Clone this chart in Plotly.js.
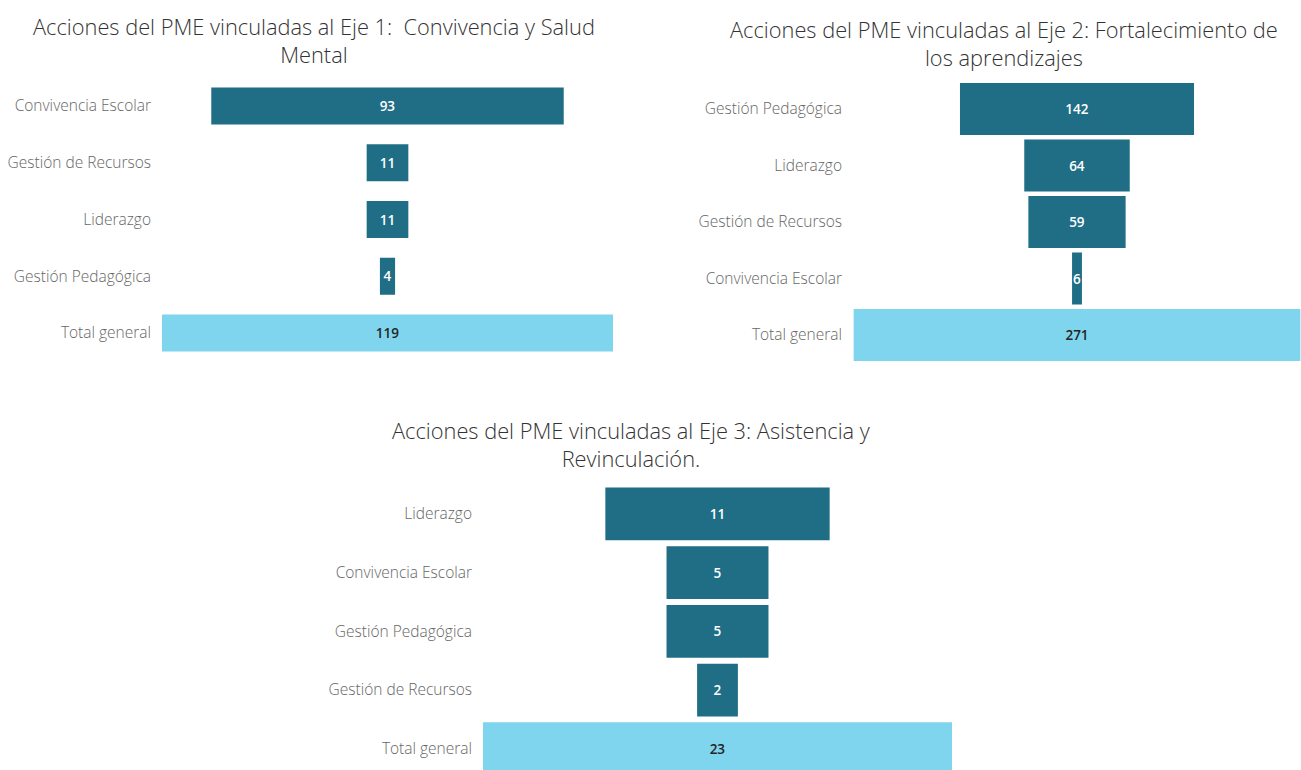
<!DOCTYPE html>
<html>
<head>
<meta charset="utf-8">
<script src="https://cdn.plot.ly/plotly-3.0.1.min.js"></script>
<style>
  html, body { margin: 0; padding: 0; background: #ffffff; }
  #chart { width: 1301px; height: 770px; }
</style>
</head>
<body>
<div id="chart"></div>
<script>
// ---- Data ----
const eje1Title = 'Acciones del PME vinculadas al Eje 1:  Convivencia y Salud<br>Mental';
const eje1Categories = ['Convivencia Escolar', 'Gestión de Recursos', 'Liderazgo', 'Gestión Pedagógica', 'Total general'];
const eje1Values = [93, 11, 11, 4, 119];

const eje2Title = 'Acciones del PME vinculadas al Eje 2: Fortalecimiento de<br>los aprendizajes';
const eje2Categories = ['Gestión Pedagógica', 'Liderazgo', 'Gestión de Recursos', 'Convivencia Escolar', 'Total general'];
const eje2Values = [142, 64, 59, 6, 271];

const eje3Title = 'Acciones del PME vinculadas al Eje 3: Asistencia y<br>Revinculación.';
const eje3Categories = ['Liderazgo', 'Convivencia Escolar', 'Gestión Pedagógica', 'Gestión de Recursos', 'Total general'];
const eje3Values = [11, 5, 5, 2, 23];

// ---- Styles ----
const DARK = '#1f6e86';
const LIGHT = '#7fd5ed';
const W = 1301, H = 770;
const FONT = 'Open Sans, Noto Sans, sans-serif';

function colorsFor(cats) { return cats.map(c => c === 'Total general' ? LIGHT : DARK); }
function textColorsFor(cats) { return cats.map(c => c === 'Total general' ? '#252423' : '#ffffff'); }

function funnel(cats, vals, xa, ya, width) {
  return {
    type: 'funnel',
    y: cats,
    x: vals,
    xaxis: xa,
    yaxis: ya,
    width: width,
    textinfo: 'value',
    textposition: 'inside',
    insidetextanchor: 'middle',
    constraintext: 'none',
    textfont: { family: FONT, size: 13.5, weight: 600, color: textColorsFor(cats) },
    marker: { color: colorsFor(cats), line: { width: 0 } },
    connector: { visible: false },
    hoverinfo: 'y+x',
    showlegend: false
  };
}

const traces = [
  funnel(eje1Categories, eje1Values, 'x', 'y', 0.65),
  funnel(eje2Categories, eje2Values, 'x2', 'y2', 0.92),
  funnel(eje3Categories, eje3Values, 'x3', 'y3', 0.9)
];

function xax(l, r, half) {
  return {
    domain: [l / W, r / W],
    range: [-half, half],
    autorange: false,
    showticklabels: false, showgrid: false, zeroline: false, showline: false, ticks: ''
  };
}
function yax(topPx, bottomPx, range, anchor) {
  return {
    domain: [Math.max(0, 1 - bottomPx / H), 1 - topPx / H],
    range: range,
    autorange: false,
    anchor: anchor,
    showgrid: false, zeroline: false, showline: false, ticks: '',
    ticklabelstandoff: 10,
    tickfont: { family: FONT, size: 15.5, weight: 300, color: '#666666' }
  };
}

const layout = {
  width: W, height: H,
  margin: { l: 0, r: 0, t: 0, b: 0, pad: 0 },
  paper_bgcolor: '#ffffff',
  plot_bgcolor: 'rgba(0,0,0,0)',
  font: { family: FONT, color: '#444' },
  xaxis: xax(162, 613, 59.5),
  yaxis: yax(77.6, 361.4, [4.5, -0.5], 'x'),
  xaxis2: xax(853, 1301, 135.9),
  yaxis2: yax(80.75, 363.25, [4.5, -0.5], 'x2'),
  xaxis3: xax(483, 952, 11.5),
  yaxis3: yax(484.6, 770, [4.362, -0.5], 'x3'),
  annotations: [
    { text: eje1Title, x: 314 / W, y: 1 - 41 / H },
    { text: eje2Title, x: 1004 / W, y: 1 - 43.5 / H },
    { text: eje3Title, x: 631 / W, y: 1 - 444 / H }
  ].map(a => Object.assign({
    xref: 'paper', yref: 'paper', xanchor: 'center', yanchor: 'middle',
    showarrow: false, align: 'center',
    font: { family: FONT, size: 21.8, weight: 300, color: '#333333' }
  }, a))
};

Plotly.newPlot('chart', traces, layout, { displayModeBar: false, responsive: false });
</script>
</body>
</html>
